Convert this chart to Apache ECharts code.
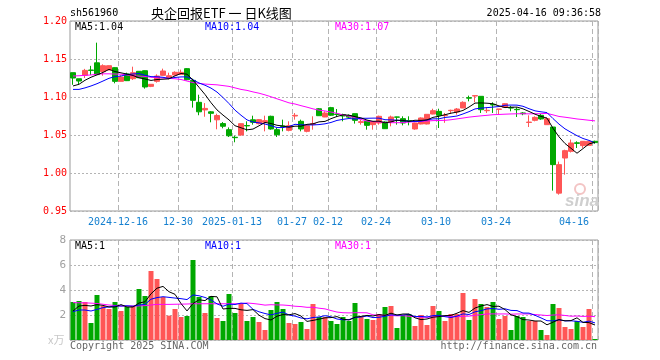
<!DOCTYPE html>
<html><head><meta charset="utf-8">
<script src="https://cdn.jsdelivr.net/npm/echarts@6/dist/echarts.min.js"></script>
<style>html,body{margin:0;padding:0;background:#fff}#c{width:660px;height:360px}</style>
</head><body><div id="c"></div><script>
// ---- data ----
const dates = [
'2024-12-04','2024-12-05','2024-12-06','2024-12-09','2024-12-10','2024-12-11','2024-12-12','2024-12-13','2024-12-16','2024-12-17',
'2024-12-18','2024-12-19','2024-12-20','2024-12-23','2024-12-24','2024-12-25','2024-12-26','2024-12-27','2024-12-30','2024-12-31',
'2025-01-02','2025-01-03','2025-01-06','2025-01-07','2025-01-08','2025-01-09','2025-01-10','2025-01-13','2025-01-14','2025-01-15',
'2025-01-16','2025-01-17','2025-01-20','2025-01-21','2025-01-22','2025-01-23','2025-01-24','2025-01-27','2025-02-05','2025-02-06',
'2025-02-07','2025-02-10','2025-02-11','2025-02-12','2025-02-13','2025-02-14','2025-02-17','2025-02-18','2025-02-19','2025-02-20',
'2025-02-21','2025-02-24','2025-02-25','2025-02-26','2025-02-27','2025-02-28','2025-03-03','2025-03-04','2025-03-05','2025-03-06',
'2025-03-07','2025-03-10','2025-03-11','2025-03-12','2025-03-13','2025-03-14','2025-03-17','2025-03-18','2025-03-19','2025-03-20',
'2025-03-21','2025-03-24','2025-03-25','2025-03-26','2025-03-27','2025-03-28','2025-03-31','2025-04-01','2025-04-02','2025-04-03',
'2025-04-07','2025-04-08','2025-04-09','2025-04-10','2025-04-11','2025-04-14','2025-04-15','2025-04-16'];

const opens = [
1.132,1.124,1.1285,1.1355,1.145,1.1333,1.1355,1.1386,1.1206,1.1303,
1.1241,1.1338,1.1346,1.114,1.1206,1.1285,1.1254,1.1289,1.1298,1.1373,
1.1219,1.093,1.083,1.0805,1.070,1.065,1.057,1.047,1.050,1.0625,
1.070,1.0649,1.0667,1.0746,1.057,1.0618,1.0561,1.075,1.068,1.0548,
1.064,1.0845,1.0737,1.086,1.0775,1.0768,1.0755,1.0781,1.0666,1.068,
1.0636,1.0658,1.0671,1.0671,1.0737,1.0715,1.0688,1.0579,1.0645,1.0645,
1.0776,1.0811,1.0755,1.082,1.0803,1.0855,1.099,1.1013,1.1009,1.082,
1.0903,1.0838,1.0864,1.086,1.0838,1.079,1.0665,1.0693,1.0759,1.0636,
1.0605,0.9735,1.0197,1.0285,1.0397,1.036,1.0364,1.0417];
const closes = [
1.125,1.121,1.135,1.135,1.1295,1.1412,1.1412,1.1206,1.1263,1.1215,
1.132,1.1254,1.1132,1.1167,1.1276,1.1342,1.128,1.1325,1.1325,1.1228,
1.0956,1.0805,1.085,1.0785,1.0756,1.0615,1.049,1.0465,1.0649,1.062,
1.0667,1.0702,1.0689,1.0579,1.0504,1.0614,1.0623,1.0759,1.0579,1.0623,
1.0649,1.0754,1.0789,1.076,1.077,1.075,1.0735,1.0693,1.0675,1.0627,
1.0671,1.0746,1.0583,1.0737,1.0735,1.0658,1.0684,1.0658,1.0724,1.0772,
1.082,1.0759,1.076,1.0825,1.0842,1.093,1.0985,1.1018,1.0833,1.0825,
1.0895,1.0842,1.0912,1.0855,1.0833,1.078,1.067,1.0732,1.0711,1.0715,
1.011,1.011,1.0294,1.0395,1.039,1.0417,1.0417,1.040];
const lows = [
1.116,1.117,1.125,1.129,1.129,1.128,1.1355,1.118,1.1205,1.121,
1.1224,1.125,1.111,1.113,1.1189,1.128,1.1232,1.128,1.129,1.122,
1.086,1.076,1.074,1.0667,1.0575,1.0588,1.0474,1.0404,1.049,1.0548,
1.0636,1.064,1.0548,1.057,1.0474,1.0548,1.0548,1.0702,1.0548,1.0535,
1.057,1.075,1.0735,1.075,1.0737,1.068,1.072,1.065,1.0636,1.057,
1.057,1.0636,1.058,1.0614,1.0636,1.0627,1.0627,1.057,1.064,1.064,
1.0772,1.0592,1.066,1.0777,1.0768,1.0855,1.0943,1.093,1.079,1.079,
1.079,1.0768,1.086,1.0812,1.0737,1.076,1.0605,1.068,1.070,1.0636,
0.9768,0.9715,0.9978,1.027,1.0329,1.033,1.036,1.0385];
const highs = [
1.132,1.124,1.137,1.141,1.1715,1.143,1.1415,1.139,1.1285,1.132,
1.1399,1.134,1.135,1.117,1.1298,1.1373,1.132,1.1338,1.136,1.138,
1.1241,1.103,1.092,1.0815,1.078,1.067,1.060,1.049,1.065,1.068,
1.0754,1.071,1.0754,1.0754,1.0592,1.0702,1.068,1.0789,1.0702,1.0636,
1.0746,1.0855,1.0811,1.087,1.0842,1.078,1.077,1.078,1.070,1.068,
1.0675,1.0755,1.068,1.0755,1.074,1.0746,1.0746,1.0662,1.0732,1.0772,
1.0846,1.0846,1.079,1.0833,1.0855,1.0943,1.1018,1.1018,1.1009,1.0864,
1.093,1.0842,1.092,1.0882,1.0864,1.080,1.0759,1.0746,1.0776,1.0732,
1.0605,1.015,1.0307,1.044,1.0417,1.042,1.042,1.0425];
const volumes = [
3.04,3.12,3.04,1.36,3.6,2.72,2.48,3.04,2.32,2.64,
2.72,4.08,3.52,5.52,4.88,3.44,1.95,2.48,1.84,1.92,
6.4,3.44,2.16,3.52,1.76,1.52,3.68,2.16,2.96,1.52,
1.84,1.44,0.8,2.4,3.04,2.48,1.36,1.28,1.44,0.88,
2.88,1.84,1.84,1.52,1.28,1.84,1.52,2.96,1.84,1.68,
1.6,2.08,2.64,2.72,0.96,2.0,2.08,1.12,2.0,1.2,
2.72,2.32,1.52,2.08,2.08,3.76,1.6,3.28,2.88,2.64,
3.04,1.68,1.92,0.8,1.92,1.84,1.52,1.52,0.8,0.4,
2.88,2.56,1.04,0.88,1.52,1.04,2.48,0.08];

const ma5Head = [1.1145,1.1167,1.122,1.126];
const ma10Head = [1.110,1.110,1.112,1.1145,1.1175,1.121,1.1246,1.1268,1.1276];
const ma30Head = [1.1276,1.128,1.1285,1.129,1.130,1.1305,1.1305,1.1302,1.130,1.129,
1.128,1.1275,1.127,1.126,1.1255,1.125,1.1245,1.124,1.123,1.121,
1.119,1.118,1.117,1.1165,1.116,1.115,1.114,1.112,1.110];
const vma5Head = [2.32,2.72,2.77,2.72];
const vma10Head = [2.27,2.4,2.4,2.32,2.45,2.59,2.65,2.72,2.72];
const vma30Head = [2.99,2.98,2.97,2.95,2.92,2.86,2.8,2.76,2.72,2.72,
2.72,2.73,2.75,2.8,2.85,2.85,2.85,2.86,2.87,2.88,
2.9,2.9,2.9,2.9,2.9,2.9,2.9,2.9,2.9];

const tickDates = ['2024-12-16','2024-12-30','2025-01-13','2025-01-27','2025-02-12','2025-02-24','2025-03-10','2025-03-24','2025-04-16'];
const tickLabels = ['2024-12-16','12-30','2025-01-13','01-27','02-12','02-24','03-10','03-24','04-16'];
const priceTicks = [0.95,1.00,1.05,1.10,1.15,1.20];

// ---- build ----
const UP = '#ff5656', DOWN = '#00a800';
function movingAvg(arr, n, head) {
  return arr.map((v, i) => {
    if (i < n - 1) return head[i];
    let s = 0; for (let k = i - n + 1; k <= i; k++) s += arr[k];
    return +(s / n).toFixed(4);
  });
}
const ma5 = movingAvg(closes, 5, ma5Head), ma10 = movingAvg(closes, 10, ma10Head), ma30 = movingAvg(closes, 30, ma30Head);
const vma5 = movingAvg(volumes, 5, vma5Head), vma10 = movingAvg(volumes, 10, vma10Head), vma30 = movingAvg(volumes, 30, vma30Head);
const kdata = dates.map((d, i) => [opens[i], closes[i], lows[i], highs[i]]);
const vdata = volumes.map((v, i) => ({ value: v, itemStyle: { color: closes[i] >= opens[i] ? UP : DOWN } }));
const tickIdx = {}; tickDates.forEach((d, k) => { tickIdx[dates.indexOf(d)] = tickLabels[k]; });
const last = a => a[a.length - 1];

const MONO = '"DejaVu Sans Mono", "Liberation Mono", monospace';
const L = 70, R = 62;
const dashed = { show: true, interval: (i) => tickIdx[i] !== undefined, lineStyle: { color: '#b4b4b4', type: [5, 3], width: 1 } };
const dotted = { show: true, lineStyle: { color: '#b4b4b4', type: [2, 2], width: 1 } };

function txt(x, y, s, color, extra) {
  return Object.assign({ type: 'text', x: x, y: y, silent: true, z: 100,
    style: Object.assign({ text: s, fill: color, font: '10px ' + MONO, textVerticalAlign: 'middle' }, extra || {}) });
}

const chart = echarts.init(document.getElementById('c'), null, { renderer: 'canvas' });
chart.setOption({
  animation: false,
  backgroundColor: '#fff',
  grid: [
    { left: L, right: R, top: 21, height: 190, show: true, borderColor: '#999', borderWidth: 1, backgroundColor: 'transparent' },
    { left: L, right: R, top: 240, height: 100, show: true, borderColor: '#999', borderWidth: 1, backgroundColor: 'transparent' }
  ],
  xAxis: [
    { type: 'category', gridIndex: 0, data: dates, boundaryGap: true,
      axisLine: { show: false }, axisTick: { show: false },
      axisLabel: { interval: (i) => tickIdx[i] !== undefined, formatter: (v, i) => tickIdx[i] || '',
        color: '#1580d0', fontFamily: MONO, fontSize: 10, margin: 6, padding: [0, 6, 0, 0], alignMaxLabel: 'right' },
      splitLine: dashed },
    { type: 'category', gridIndex: 1, data: dates, boundaryGap: true,
      axisLine: { show: false }, axisTick: { show: false }, axisLabel: { show: false },
      splitLine: dashed }
  ],
  yAxis: [
    { type: 'value', gridIndex: 0, min: 0.95, max: 1.20, interval: 0.05, scale: true,
      axisLine: { show: false }, axisTick: { show: false },
      axisLabel: { color: '#ff0000', fontFamily: MONO, fontSize: 10, margin: 3, formatter: v => v.toFixed(2) },
      splitLine: dotted },
    { type: 'value', gridIndex: 1, min: 0, max: 8, interval: 2,
      axisLine: { show: false }, axisTick: { show: false },
      axisLabel: { color: '#a0a0a0', fontFamily: MONO, fontSize: 11, margin: 4, formatter: v => v === 0 ? '' : String(v) },
      splitLine: dotted }
  ],
  series: [
    { type: 'candlestick', xAxisIndex: 0, yAxisIndex: 0, data: kdata, barWidth: 5,
      itemStyle: { color: UP, color0: DOWN, borderColor: UP, borderColor0: DOWN, borderWidth: 1 } },
    { type: 'line', xAxisIndex: 0, yAxisIndex: 0, data: ma30, symbol: 'none', lineStyle: { color: '#ff00ff', width: 1 } },
    { type: 'line', xAxisIndex: 0, yAxisIndex: 0, data: ma10, symbol: 'none', lineStyle: { color: '#0000ff', width: 1 } },
    { type: 'line', xAxisIndex: 0, yAxisIndex: 0, data: ma5, symbol: 'none', lineStyle: { color: '#000000', width: 1 } },
    { type: 'bar', xAxisIndex: 1, yAxisIndex: 1, data: vdata, barWidth: 5 },
    { type: 'line', xAxisIndex: 1, yAxisIndex: 1, data: vma30, symbol: 'none', lineStyle: { color: '#ff00ff', width: 1 } },
    { type: 'line', xAxisIndex: 1, yAxisIndex: 1, data: vma10, symbol: 'none', lineStyle: { color: '#0000ff', width: 1 } },
    { type: 'line', xAxisIndex: 1, yAxisIndex: 1, data: vma5, symbol: 'none', lineStyle: { color: '#000000', width: 1 } }
  ],
  graphic: [
    txt(70, 13, 'sh561960', '#000'),
    txt(151, 13, '央企回报ETF 一 日K线图', '#000', { font: '13px "Noto Sans CJK SC", sans-serif' }),
    txt(601, 13, '2025-04-16 09:36:58', '#000', { textAlign: 'right' }),
    txt(75, 27, 'MA5:' + last(ma5).toFixed(2), '#000'),
    txt(205, 27, 'MA10:' + last(ma10).toFixed(2), '#0000ff'),
    txt(335, 27, 'MA30:' + last(ma30).toFixed(2), '#ff00ff'),
    txt(75, 246, 'MA5:' + Math.floor(last(vma5)), '#000'),
    txt(205, 246, 'MA10:' + Math.floor(last(vma10)), '#0000ff'),
    txt(335, 246, 'MA30:' + Math.floor(last(vma30)), '#ff00ff'),
    txt(48, 340, 'x万', '#c8c8c8', { font: '11px "Noto Sans CJK SC", sans-serif' }),
    txt(70, 346, 'Copyright 2025 SINA.COM', '#666'),
    txt(597, 346, 'http://finance.sina.com.cn', '#666', { textAlign: 'right' }),
    { type: 'circle', shape: { cx: 580, cy: 189, r: 5 }, silent: true, z: 1,
      style: { fill: 'none', stroke: '#f3c4c4', lineWidth: 2 } },
    txt(565, 201, 'sina', '#cfcfcf', { font: 'italic bold 17px "Liberation Sans", Arial, sans-serif', z: 1 })
  ]
});
</script></body></html>
